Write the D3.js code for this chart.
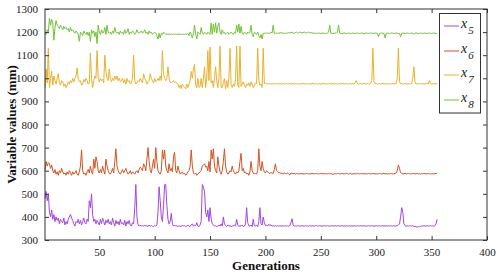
<!DOCTYPE html>
<html><head><meta charset="utf-8">
<script src="https://cdn.jsdelivr.net/npm/d3@7"></script>
<style>body{margin:0;background:#fff}svg{display:block}</style>
</head><body>
<svg id="c" width="500" height="275"></svg>
<script>
const seriesNames = ["5","6","7","8"];
const seriesColors = ["#a246e6","#cf5522","#e8b22c","#72c236"];
const xTicks = [50,100,150,200,250,300,350,400];
const yTicks = [300,400,500,600,700,800,900,1000,1100,1200,1300];

const x5 = [
480,510,470,500,420,400,430,390,410,380,
400,385,395,370,390,380,375,395,365,380,
370,390,400,410,395,385,370,360,380,375,
390,370,385,365,380,395,375,370,390,380,
470,440,500,410,380,390,370,385,375,365,
390,370,395,380,365,385,375,390,370,380,
365,395,375,360,385,370,380,365,390,370,
375,365,385,360,380,370,385,365,360,375,
370,440,540,400,365,360,365,360,362,360,
365,360,362,358,365,360,362,360,358,362,
360,365,420,530,470,400,380,450,540,540,
450,390,370,380,415,370,360,365,360,362,
358,362,360,358,365,360,362,358,360,365,
360,358,365,370,360,365,362,375,360,358,
365,380,540,530,510,420,400,430,380,440,
390,370,365,360,362,358,360,365,360,370,
360,400,370,362,358,365,360,362,358,360,
362,365,360,390,365,358,362,360,365,358,
360,370,440,375,362,360,365,358,390,362,
360,365,358,380,440,370,365,400,375,362,
365,360,368,362,366,360,362,360,361,360,
362,360,361,360,362,361,360,362,360,361,
360,362,375,392,365,360,361,360,362,360,
361,360,362,361,360,362,360,361,360,362,
361,360,362,360,361,363,360,361,362,360,
361,360,362,361,360,362,360,361,360,362,
361,360,362,360,361,362,360,361,362,360,
361,360,362,361,360,362,360,361,360,362,
361,360,362,360,361,362,360,361,362,360,
361,360,362,361,360,362,360,361,360,362,
361,360,362,360,361,362,360,361,362,360,
361,360,362,361,360,362,360,361,362,365,
370,400,440,420,370,362,360,361,360,362,
361,360,362,358,360,357,356,358,357,360,
361,360,362,360,361,362,360,361,362,360,
361,360,362,370,390];

const x6 = [
600,640,620,635,630,610,625,600,590,605,
585,595,580,600,590,610,595,585,590,580,
595,585,600,590,580,595,585,590,600,585,
580,595,620,690,600,585,590,580,595,605,
590,620,595,585,650,610,660,640,600,590,
605,590,620,600,585,650,620,600,590,585,
595,610,590,640,695,620,600,590,585,595,
605,590,600,610,595,585,590,600,585,595,
590,585,595,600,590,605,615,610,600,630,
620,600,650,700,640,600,590,620,650,610,
700,640,600,590,585,600,690,650,690,620,
600,590,630,600,610,595,660,680,600,590,
620,600,585,590,595,585,590,580,585,595,
600,620,690,620,590,585,590,580,585,590,
595,600,620,625,630,615,620,600,640,595,
690,650,695,620,600,590,660,620,595,585,
600,640,695,620,595,585,590,600,595,620,
600,590,585,595,590,600,640,675,600,610,
590,595,585,590,580,595,640,600,590,585,
590,585,600,695,620,600,640,610,595,590,
600,595,590,588,592,590,588,605,630,600,
595,590,592,588,590,586,590,588,587,590,
585,582,590,588,586,590,585,588,587,586,
587,586,588,586,587,586,588,587,586,587,
586,588,587,586,587,588,586,587,586,588,
587,586,588,587,586,587,588,586,587,586,
584,586,587,586,588,587,586,587,588,586,
587,586,588,587,586,587,588,584,587,586,
587,586,588,587,586,587,588,586,587,586,
587,586,588,587,586,587,588,586,587,586,
587,586,588,587,586,587,588,586,587,586,
587,586,588,587,586,587,588,590,600,625,
610,592,588,587,586,590,586,587,588,586,
587,586,588,587,586,587,588,586,587,586,
587,586,588,587,586,587,588,586,587,586,
587,586,588,587,590];

const x7 = [
960,1040,980,1130,960,1000,1030,970,1010,990,
975,1000,1020,980,970,990,985,965,975,960,
970,985,975,990,980,1000,985,1000,1010,1045,
1000,985,990,970,975,995,985,1000,990,975,
980,1110,1000,960,990,1010,1000,1120,1000,985,
1000,990,995,980,1100,1030,1000,990,1040,1000,
985,1000,990,1010,995,1010,990,1000,985,990,
1000,980,995,975,1000,985,990,975,980,1000,
1100,990,975,980,990,985,1000,990,980,1020,
1000,990,975,985,990,1020,1000,990,980,1000,
985,990,1000,990,1010,990,1120,1020,1000,990,
1000,1050,1000,985,980,985,990,980,985,980,
975,960,970,955,975,965,960,955,975,960,
975,990,1030,1000,1040,1060,970,960,1000,960,
965,1000,960,1000,1050,960,1000,1120,990,1135,
980,990,960,1000,1050,990,960,1000,1140,960,
960,980,1000,955,990,960,1000,1130,970,960,
975,965,1000,1140,970,960,1140,965,975,985,
970,960,975,970,980,965,985,975,960,970,
980,975,1130,990,970,975,960,1130,975,980,
978,975,976,977,975,976,978,975,976,977,
975,976,977,975,976,978,975,976,977,975,
976,977,975,976,978,975,976,977,975,976,
977,975,976,978,975,976,977,975,976,977,
975,976,978,975,976,977,975,976,977,975,
976,978,975,976,977,975,976,977,975,976,
978,975,976,977,975,976,977,975,976,978,
975,976,977,975,976,978,975,976,977,975,
980,990,978,975,976,977,975,976,978,975,
976,977,975,976,978,990,1130,985,976,977,
975,976,977,975,976,978,975,976,977,975,
976,977,975,976,978,975,976,977,1000,1130,
985,976,977,975,976,978,975,976,977,975,
976,977,1000,1050,980,976,977,975,976,978,
975,976,977,975,976,978,975,990,977,975,
976,977,975,976,978];

const x8 = [
1200,1190,1210,1200,1260,1230,1255,1240,1165,1220,
1250,1230,1225,1215,1230,1220,1210,1225,1215,1220,
1210,1215,1200,1220,1205,1210,1200,1195,1205,1200,
1190,1160,1200,1195,1185,1205,1195,1190,1200,1185,
1200,1160,1210,1195,1205,1180,1200,1150,1230,1200,
1190,1210,1195,1200,1220,1190,1230,1200,1195,1200,
1190,1205,1195,1220,1200,1195,1200,1190,1205,1195,
1200,1190,1210,1195,1200,1215,1190,1200,1195,1205,
1200,1190,1195,1210,1200,1195,1200,1205,1195,1200,
1210,1195,1200,1190,1205,1195,1200,1190,1195,1200,
1195,1185,1170,1195,1175,1195,1190,1200,1195,1190,
1192,1190,1192,1190,1191,1190,1192,1190,1191,1190,
1191,1190,1192,1190,1190,1191,1190,1192,1190,1195,
1185,1200,1190,1175,1195,1230,1190,1170,1200,1195,
1190,1220,1195,1190,1200,1195,1190,1200,1195,1190,
1240,1190,1235,1200,1240,1195,1225,1240,1200,1190,
1210,1195,1200,1190,1195,1200,1190,1195,1200,1195,
1190,1200,1195,1230,1200,1235,1195,1225,1195,1190,
1200,1195,1190,1200,1195,1200,1230,1190,1180,1200,
1195,1190,1200,1185,1175,1190,1170,1195,1195,1195,
1195,1196,1195,1194,1200,1196,1230,1194,1195,1196,
1195,1196,1195,1198,1195,1196,1195,1194,1195,1196,
1198,1196,1200,1198,1196,1195,1198,1200,1196,1198,
1200,1198,1196,1198,1200,1198,1196,1198,1200,1196,
1198,1196,1195,1196,1195,1194,1195,1196,1195,1194,
1195,1196,1195,1194,1195,1196,1200,1230,1196,1195,
1194,1195,1196,1195,1200,1230,1196,1195,1194,1195,
1196,1195,1194,1195,1196,1195,1194,1195,1196,1195,
1194,1195,1196,1195,1194,1195,1196,1195,1194,1195,
1196,1195,1194,1195,1196,1195,1194,1195,1196,1195,
1195,1180,1194,1195,1196,1195,1194,1175,1195,1196,
1195,1194,1195,1196,1195,1194,1195,1196,1195,1194,
1194,1180,1195,1196,1195,1194,1195,1196,1195,1194,
1195,1196,1195,1190,1195,1196,1195,1194,1195,1196,
1195,1194,1195,1196,1195,1194,1195,1196,1195,1194,
1195,1196,1195,1194,1195];

const allSeries = [x5, x6, x7, x8];

const svg = d3.select("#c");
const L = 45, R = 487, T = 9, B = 240;
const x = d3.scaleLinear().domain([1, 400]).range([L, R]);
const y = d3.scaleLinear().domain([300, 1300]).range([B, T]);
const axisColor = "#333";
const font = "'Liberation Serif','Times New Roman',serif";
const fmt = d3.format("d");

// lines
const line = d3.line().x((d, i) => x(i + 1)).y(d => y(d));
allSeries.forEach((s, k) => {
  svg.append("path").datum(s).attr("d", line)
    .attr("fill", "none").attr("stroke", seriesColors[k])
    .attr("stroke-width", 1).attr("stroke-linejoin", "round");
});

// axes with inward ticks
const tl = 4;
const gb = svg.append("g").attr("transform", `translate(0,${B})`)
  .call(d3.axisBottom(x).tickValues(xTicks).tickFormat(fmt).tickSizeInner(-tl).tickSizeOuter(0).tickPadding(8));
const gt = svg.append("g").attr("transform", `translate(0,${T})`)
  .call(d3.axisTop(x).tickValues(xTicks).tickSizeInner(-tl).tickSizeOuter(0).tickFormat(""));
const gl = svg.append("g").attr("transform", `translate(${L},0)`)
  .call(d3.axisLeft(y).tickValues(yTicks).tickFormat(fmt).tickSizeInner(-tl).tickSizeOuter(0).tickPadding(7));
const gr = svg.append("g").attr("transform", `translate(${R},0)`)
  .call(d3.axisRight(y).tickValues(yTicks).tickSizeInner(-tl).tickSizeOuter(0).tickFormat(""));
[gb, gt, gl, gr].forEach(g => {
  g.selectAll("path.domain").remove();
  g.selectAll("line").attr("stroke", axisColor);
  g.selectAll("text").attr("fill", "#222").style("font-family", font).style("font-size", "11px");
});
svg.append("rect").attr("x", L).attr("y", T).attr("width", R - L).attr("height", B - T)
  .attr("fill", "none").attr("stroke", axisColor).attr("stroke-width", 1);

// labels
svg.append("text").attr("x", (L + R) / 2).attr("y", 270).attr("text-anchor", "middle")
  .style("font-family", font).style("font-size", "13px").style("font-weight", "bold")
  .attr("fill", "#111").text("Generations");
svg.append("text").attr("transform", `translate(16,${(T + B) / 2}) rotate(-90)`)
  .attr("text-anchor", "middle")
  .style("font-family", font).style("font-size", "13px").style("font-weight", "bold")
  .attr("fill", "#111").text("Variable values (mm)");

// legend
const lg = svg.append("g");
lg.append("rect").attr("x", 439.5).attr("y", 13.5).attr("width", 41).attr("height", 99.5)
  .attr("fill", "#fff").attr("stroke", axisColor).attr("stroke-width", 1);
const legY = [26, 51, 75, 100];
seriesNames.forEach((n, k) => {
  lg.append("line").attr("x1", 444).attr("x2", 459).attr("y1", legY[k]).attr("y2", legY[k])
    .attr("stroke", seriesColors[k]).attr("stroke-width", 1);
  const t = lg.append("text").attr("x", 461).attr("y", legY[k] + 2)
    .style("font-family", font).style("font-style", "italic").style("font-size", "14px")
    .attr("fill", "#222");
  t.append("tspan").text("x");
  t.append("tspan").attr("dy", 6).attr("dx", 1).style("font-size", "11px").text(n);
});
</script>
</body></html>
